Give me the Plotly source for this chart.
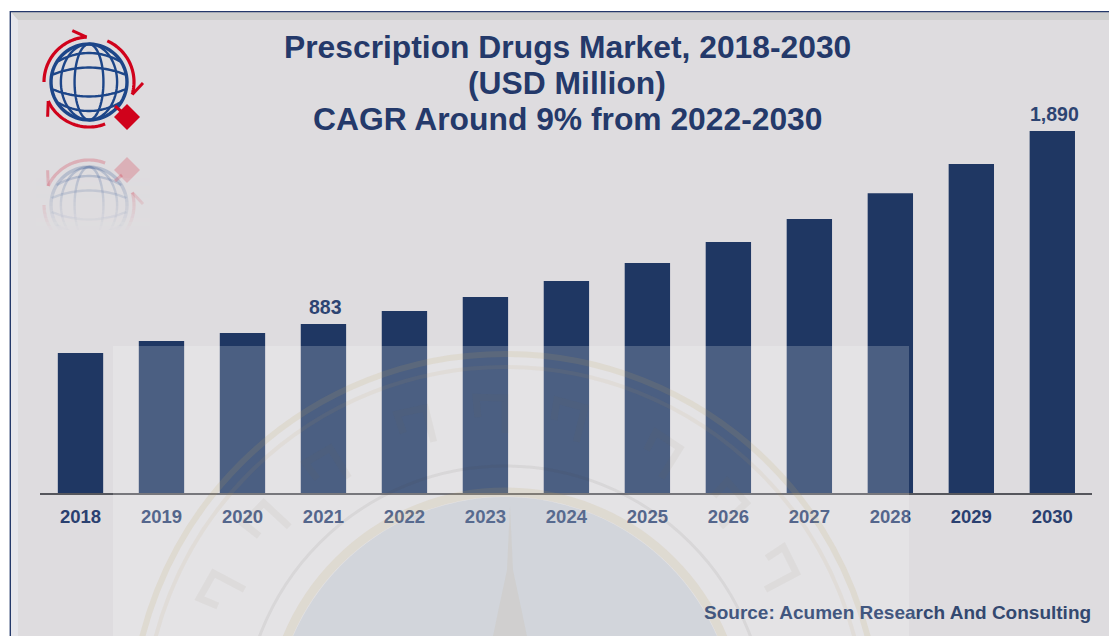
import numpy as np
import plotly.graph_objects as go

# Market size by year, USD million
years = [2018, 2019, 2020, 2021, 2022, 2023, 2024, 2025, 2026, 2027, 2028, 2029, 2030]
market_usd_m = [731, 794, 835, 883, 950, 1023, 1107, 1201, 1311, 1431, 1566, 1718, 1890]
labelled_years = [2021, 2030]

title_lines = ["Prescription Drugs Market, 2018-2030", "(USD Million)", "CAGR Around 9% from 2022-2030"]
title_rows_px = [47, 83, 119]

W, H = 1109, 636
NAVY = "#1f3763"
PANEL = "#dedcdf"
GLOBE = "#1d4689"
RED = "#d0021b"


def px(x):
    return x / W


def py(y):
    return 1 - y / H


def rect(x0, y0, x1, y1, color, layer="above"):
    return dict(type="rect", xref="paper", yref="paper", x0=px(x0), x1=px(x1), y0=py(y0), y1=py(y1),
                fillcolor=color, line_width=0, layer=layer)


def poly(points, color, width=0.0, fill=None, closed=False, opacity=1.0, layer="above"):
    path = "M" + " L".join(f"{px(x):.5f},{py(y):.5f}" for x, y in points)
    if closed:
        path += " Z"
    return dict(type="path", xref="paper", yref="paper", path=path, opacity=opacity, layer=layer,
                fillcolor=fill or "rgba(0,0,0,0)", line=dict(color=color, width=width))


def ring(cx, cy, r, color, width, fill=None, layer="above"):
    return dict(type="circle", xref="paper", yref="paper", x0=px(cx - r), x1=px(cx + r),
                y0=py(cy + r), y1=py(cy - r), layer=layer, fillcolor=fill or "rgba(0,0,0,0)",
                line=dict(color=color, width=width))


def arc(cx, cy, rx, ry, a0, a1, n=40):
    t = np.radians(np.linspace(a0, a1, n))
    return list(zip(cx + rx * np.cos(t), cy - ry * np.sin(t)))


def logo(mirror_axis=None, opacity=1.0):
    """Globe emblem with three circling arrows; optionally flipped as a reflection."""
    cx, cy, r = 89, 82, 38
    layer = "below"

    def m(pts):
        if mirror_axis is None:
            return pts
        return [(x, 2 * mirror_axis - y) for x, y in pts]

    out = []
    out.append(poly(m(arc(cx, cy, r, r, 0, 360, 70)), GLOBE, 3.4, opacity=opacity, layer=layer))
    for rx in (r * 0.74, r * 0.38):
        out.append(poly(m(arc(cx, cy, rx, r, 0, 360, 70)), GLOBE, 2.4, opacity=opacity, layer=layer))
    # Latitude lines bow toward the poles from the rim
    t = np.linspace(-1, 1, 30)
    for end, mid in ((7, 14.5), (20, 29)):
        half = np.sqrt(r ** 2 - end ** 2)
        for sign in (-1, 1):
            ys = cy + sign * (end + (mid - end) * (1 - t ** 2))
            out.append(poly(m(list(zip(cx + half * t, ys))), GLOBE, 2.4, opacity=opacity, layer=layer))
    # Three arcs, each ending in a one-sided barb on its outer edge
    for a0, a1 in ((180, 93), (66, -16), (-69, -155)):
        out.append(poly(m(arc(cx, cy, 45, 45, a0, a1)), RED, 3.2, opacity=opacity, layer=layer))
        tip = arc(cx, cy, 45, 45, a1, a1, 1)[0]
        barb = arc(cx, cy, 54, 54, a1 + 15, a1 + 15, 1)[0]
        out.append(poly(m([tip, barb]), RED, 3, opacity=opacity, layer=layer))
    # Diamond on a short stem
    out.append(poly(m([(115, 106), (122, 112)]), RED, 3, opacity=opacity, layer=layer))
    out.append(poly(m([(127, 104), (140, 117), (127, 130), (114, 117)]), RED, 0, fill=RED,
                    closed=True, opacity=opacity, layer=layer))
    return out


shapes = [
    # Panel with its bevelled top and left edges
    rect(10, 11, W, H, PANEL, "below"),
    rect(10, 12, W, 20, "#cfcfce", "below"),
    poly([(11, 12), (18, 20), (18, H), (11, H)], "#e6e6eb", 0, fill="#e6e6eb", closed=True, layer="below"),
    rect(10, 11, W, 12.2, "#24396a", "below"),
    rect(9.6, 11, 11, H, "#24396a", "below"),
]

# Logo and its reflection, which fades out toward the bottom
shapes += logo()
shapes += logo(mirror_axis=143.5, opacity=0.2)
for i in range(14):
    top = 178 + i * 4
    shapes.append(rect(36, top, 150, top + 4, f"rgba(222,220,223,{0.1 + i * 0.07:.3f})", "below"))
shapes.append(rect(36, 234, 150, 265, PANEL, "below"))

# Pale translucent seal laid over the lower part of the chart
SEAL_X, SEAL_Y = 505, 728
TAN = "rgba(190,160,90,0.14)"
FAINT = "rgba(190,160,90,0.09)"
shapes.append(rect(113, 346, 909, H, "rgba(255,255,255,0.2)"))
shapes.append(ring(SEAL_X, SEAL_Y, 231, "rgba(0,0,0,0)", 0, fill="rgba(108,134,163,0.15)"))
shapes.append(ring(SEAL_X, SEAL_Y, 236, TAN, 9))
shapes.append(ring(SEAL_X, SEAL_Y, 262, "rgba(70,60,50,0.07)", 3))
shapes.append(ring(SEAL_X, SEAL_Y, 361, FAINT, 4))
shapes.append(ring(SEAL_X, SEAL_Y, 374, TAN, 6))
shapes.append(poly([(510, 505), (513, 570), (522, 612), (528, H + 5), (492, H + 5), (498, 612), (507, 570)],
                   FAINT, 0, fill=FAINT, closed=True))
# Lettering strokes around the seal's band
for angle in (152, 137, 122, 104, 90, 76, 58, 43, 28):
    t = np.radians(angle)
    n = np.radians(angle + 5)
    stroke = [(SEAL_X + r * np.cos(a), SEAL_Y - r * np.sin(a))
              for r, a in ((295, t), (330, t), (332, n), (312, n))]
    shapes.append(poly(stroke, "rgba(120,105,75,0.06)", 7))

fig = go.Figure(
    go.Bar(
        x=years,
        y=market_usd_m,
        width=0.56,
        marker=dict(color=NAVY, line_width=0),
        hoverinfo="skip",
    )
)

source_text = ('<span style="color:#42577f">Source: Acumen Resea</span>'
               '<span style="color:#33486f">rch And Consulting</span>')

annotations = [
    dict(
        text=line,
        xref="paper",
        yref="paper",
        x=px(567),
        y=py(row),
        xanchor="center",
        yanchor="middle",
        showarrow=False,
        font=dict(family="Liberation Sans", size=31.8, color="#24396a", weight="bold"),
    )
    for line, row in zip(title_lines, title_rows_px)
]
annotations.append(
    dict(
        text=source_text,
        xref="paper",
        yref="paper",
        x=px(1093),
        y=py(612),
        xanchor="right",
        yanchor="middle",
        showarrow=False,
        font=dict(family="Liberation Sans", size=19, weight="bold"),
    )
)
annotations += [
    dict(
        text=f"{v:,}",
        x=yr,
        y=v,
        xref="x",
        yref="y",
        xanchor="center",
        yanchor="bottom",
        xshift=2.5,
        yshift=4,
        showarrow=False,
        font=dict(family="Liberation Sans", size=19.5, color="#2d4472", weight="bold"),
    )
    for yr, v in zip(years, market_usd_m)
    if yr in labelled_years
]

fig.update_layout(
    width=W,
    height=H,
    margin=dict(l=0, r=0, t=0, b=0),
    paper_bgcolor="white",
    plot_bgcolor="rgba(0,0,0,0)",
    showlegend=False,
    font=dict(family="Liberation Sans", color=NAVY),
    xaxis=dict(
        domain=[px(40), px(1092)],
        range=[2017.5, 2030.49],
        tickmode="array",
        tickvals=years,
        ticktext=[str(y) for y in years],
        tickfont=dict(family="Liberation Sans", size=18.5, color="#2a4070", weight="bold"),
        ticks="outside",
        ticklen=6,
        tickcolor="rgba(0,0,0,0)",
        showline=True,
        linecolor="#55565c",
        linewidth=2,
        showgrid=False,
        zeroline=False,
        fixedrange=True,
    ),
    yaxis=dict(
        domain=[py(493), py(12)],
        range=[0, 2512],
        visible=False,
        fixedrange=True,
    ),
    shapes=shapes,
    annotations=annotations,
)

fig.write_html("out.html")
